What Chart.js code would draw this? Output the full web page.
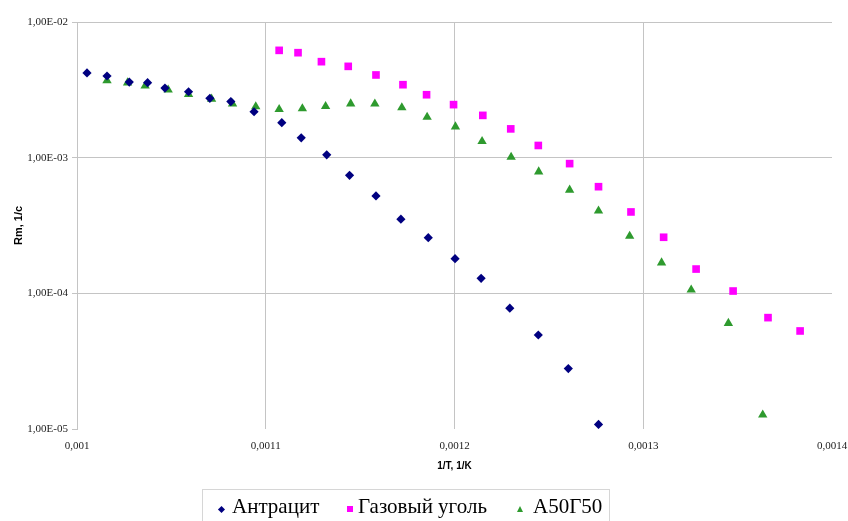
<!DOCTYPE html>
<html>
<head>
<meta charset="utf-8">
<script src="https://cdn.jsdelivr.net/npm/chart.js@4.4.1/dist/chart.umd.min.js"></script>
<style>
  html, body { margin: 0; padding: 0; background: #fff; }
  #wrap { position: relative; width: 848px; height: 521px; overflow: hidden; }
  #grafico { position: absolute; left: 0; top: 0; }
  #legenda {
    position: absolute; left: 202px; top: 489px; width: 408px; height: 40px;
    border: 1px solid #d6d6d6; box-sizing: border-box;
    font-family: "Liberation Serif", "Times New Roman", serif; font-size: 21px; color: #000;
  }
  #legenda span { position: absolute; top: 6px; line-height: 21px; white-space: nowrap; }
  .mk { position: absolute; }
</style>
</head>
<body>
<div id="wrap">
  <canvas id="grafico" width="848" height="521"></canvas>
  <div id="legenda"></div>
</div>
<script>
// Dados (1/T em 1/K, Rm em 1/c)
const nomesSeries = ['Антрацит', 'Газовый уголь', 'А50Г50'];

const antracitX = [0.0010053, 0.0010159, 0.0010277, 0.0010374, 0.0010466, 0.0010591, 0.0010704, 0.0010815,
  0.0010938, 0.0011085, 0.0011188, 0.0011323, 0.0011444, 0.0011584, 0.0011716, 0.0011861, 0.0012003,
  0.0012141, 0.0012293, 0.0012444, 0.0012603, 0.0012763];
const antracitY = [4.21e-3, 4.0e-3, 3.61e-3, 3.57e-3, 3.26e-3, 3.06e-3, 2.74e-3, 2.59e-3,
  2.18e-3, 1.81e-3, 1.40e-3, 1.05e-3, 7.41e-4, 5.22e-4, 3.52e-4, 2.57e-4, 1.80e-4,
  1.29e-4, 7.77e-5, 4.93e-5, 2.79e-5, 1.08e-5];

const gazovyX = [0.0011071, 0.0011171, 0.0011295, 0.0011437, 0.0011584, 0.0011727, 0.0011852, 0.0011995,
  0.0012150, 0.0012298, 0.0012444, 0.0012610, 0.0012763, 0.0012935, 0.0013108, 0.0013280, 0.0013476,
  0.0013661, 0.0013831];
const gazovyY = [6.18e-3, 5.94e-3, 5.10e-3, 4.71e-3, 4.07e-3, 3.45e-3, 2.91e-3, 2.46e-3,
  2.05e-3, 1.63e-3, 1.23e-3, 9.04e-4, 6.11e-4, 3.98e-4, 2.59e-4, 1.51e-4, 1.04e-4,
  6.62e-5, 5.28e-5];

const misturaX = [0.0010159, 0.0010268, 0.0010361, 0.0010483, 0.0010591, 0.0010713, 0.0010824, 0.0010947,
  0.0011071, 0.0011194, 0.0011317, 0.0011450, 0.0011578, 0.0011721, 0.0011855, 0.0012005, 0.0012146,
  0.0012300, 0.0012446, 0.0012610, 0.0012763, 0.0012928, 0.0013097, 0.0013254, 0.0013451, 0.0013633];
const misturaY = [3.70e-3, 3.57e-3, 3.38e-3, 3.16e-3, 2.93e-3, 2.71e-3, 2.50e-3, 2.38e-3,
  2.27e-3, 2.30e-3, 2.39e-3, 2.50e-3, 2.49e-3, 2.34e-3, 1.99e-3, 1.69e-3, 1.32e-3,
  1.01e-3, 7.88e-4, 5.78e-4, 4.05e-4, 2.64e-4, 1.68e-4, 1.06e-4, 6.02e-5, 1.27e-5];

// Ticks dos eixos
const xTicks = [0.001, 0.0011, 0.0012, 0.0013, 0.0014];
const xTickLabels = ['0,001', '0,0011', '0,0012', '0,0013', '0,0014'];
const yTicks = [1e-5, 1e-4, 1e-3, 1e-2];
const yTickLabels = ['1,00E-05', '1,00E-04', '1,00E-03', '1,00E-02'];

const cores = ['#000080', '#ff00ff', '#2e9a2e'];
const estilos = ['rectRot', 'rect', 'triangle'];
const raios = [4.6, 5.4, 5.4];

function montarPontos(xs, ys) {
  return xs.map((x, i) => ({ x: x, y: ys[i] }));
}

const corGrade = '#c4c4c4';
const fonteTicks = { family: '"Liberation Serif", "Times New Roman", serif', size: 11 };

new Chart(document.getElementById('grafico'), {
  type: 'scatter',
  data: {
    datasets: [
      { label: nomesSeries[0], data: montarPontos(antracitX, antracitY) },
      { label: nomesSeries[1], data: montarPontos(gazovyX, gazovyY) },
      { label: nomesSeries[2], data: montarPontos(misturaX, misturaY) }
    ].map((d, i) => Object.assign(d, {
      pointStyle: estilos[i],
      pointRadius: raios[i],
      pointHoverRadius: raios[i],
      backgroundColor: cores[i],
      borderColor: cores[i],
      borderWidth: 0
    }))
  },
  options: {
    responsive: false,
    animation: false,
    layout: { padding: { left: 0, top: 22, right: 16, bottom: 42 } },
    plugins: { legend: { display: false }, tooltip: { enabled: false } },
    scales: {
      x: {
        type: 'linear',
        min: 0.001,
        max: 0.0014,
        afterBuildTicks: s => { s.ticks = xTicks.map(v => ({ value: v })); },
        afterFit: s => { s.height = 50; s.paddingRight = 0; },
        ticks: {
          padding: 11,
          maxRotation: 0,
          color: '#222',
          font: fonteTicks,
          callback: (v, i) => xTickLabels[i]
        },
        grid: {
          drawTicks: false,
          color: c => (c.tick && c.tick.value >= 0.0014) ? 'rgba(0,0,0,0)' : corGrade
        },
        border: { display: false },
        title: {
          display: true,
          text: '1/T, 1/K',
          color: '#000',
          padding: { top: 4, bottom: 7 },
          font: { family: '"Liberation Sans", Arial, sans-serif', size: 10, weight: 'bold' }
        }
      },
      y: {
        type: 'logarithmic',
        min: 1e-5,
        max: 1e-2,
        afterBuildTicks: s => { s.ticks = yTicks.map(v => ({ value: v })); },
        afterFit: s => { s.width = 77; },
        ticks: {
          padding: 4,
          color: '#222',
          font: fonteTicks,
          callback: (v, i) => yTickLabels[i]
        },
        grid: {
          tickLength: 5,
          color: c => (c.tick && c.tick.value <= 1e-5) ? 'rgba(0,0,0,0)' : corGrade,
          tickColor: corGrade
        },
        border: { display: true, color: corGrade },
        title: {
          display: true,
          text: 'Rm, 1/c',
          color: '#000',
          padding: { top: 12, bottom: 0 },
          font: { family: '"Liberation Sans", Arial, sans-serif', size: 11, weight: 'bold' }
        }
      }
    }
  }
});

// Legenda em HTML
const legenda = document.getElementById('legenda');
const posMarcadores = [16, 144, 314];
const posTextos = [29, 155, 330];
const marcadoresCss = [
  'width:5px;height:5px;background:#000080;transform:rotate(45deg);top:17px;',
  'width:6px;height:6px;background:#ff00ff;top:16px;',
  'width:0;height:0;border-left:3.5px solid transparent;border-right:3.5px solid transparent;border-bottom:6px solid #2e9a2e;top:16px;'
];
nomesSeries.forEach((nome, i) => {
  const mk = document.createElement('div');
  mk.className = 'mk';
  mk.style.cssText = marcadoresCss[i] + 'left:' + posMarcadores[i] + 'px;';
  legenda.appendChild(mk);
  const sp = document.createElement('span');
  sp.textContent = nome;
  sp.style.left = posTextos[i] + 'px';
  legenda.appendChild(sp);
});
</script>
</body>
</html>
